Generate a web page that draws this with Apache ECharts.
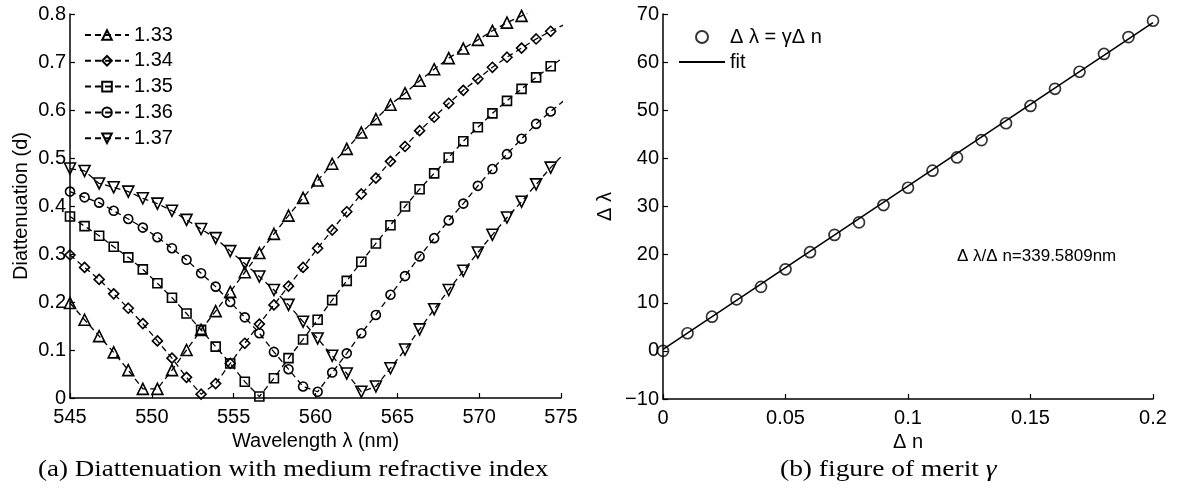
<!DOCTYPE html>
<html lang="en">
<head>
    <meta charset="UTF-8">
    <title>Diattenuation and figure of merit</title>
    <script src="https://cdn.jsdelivr.net/npm/echarts@6.0.0/dist/echarts.min.js"></script>
    <style>
        html, body { margin: 0; padding: 0; background: #fff; }
        #main { width: 1182px; height: 488px; }
    </style>
</head>
<body>
<div id="main"></div>
<script type="text/javascript">

    // left panel: sampled wavelengths (nm)
    var wavelength = [545, 545.89, 546.78, 547.67, 548.56, 549.45, 550.34, 551.23, 552.12, 553.01,
        553.9, 554.79, 555.68, 556.57, 557.46, 558.35, 559.24, 560.13, 561.02, 561.91,
        562.8, 563.69, 564.58, 565.47, 566.36, 567.25, 568.14, 569.03, 569.92, 570.81,
        571.7, 572.59, 573.48, 574.37, 575.26];

    // diattenuation for each medium index
    var d133 = [0.198, 0.163, 0.129, 0.095, 0.058, 0.019, 0.019, 0.058, 0.100, 0.142,
        0.181, 0.221, 0.262, 0.302, 0.342, 0.380, 0.417, 0.453, 0.488, 0.519,
        0.553, 0.581, 0.611, 0.635, 0.661, 0.685, 0.708, 0.728, 0.746, 0.765,
        0.782, 0.796, 0.812, 0.826, 0.840];
    var d134 = [0.298, 0.272, 0.247, 0.217, 0.187, 0.155, 0.119, 0.083, 0.043, 0.008,
        0.030, 0.072, 0.114, 0.154, 0.194, 0.233, 0.272, 0.312, 0.350, 0.388,
        0.425, 0.458, 0.493, 0.524, 0.557, 0.585, 0.614, 0.641, 0.665, 0.689,
        0.710, 0.729, 0.748, 0.764, 0.779];
    var d135 = [0.378, 0.358, 0.338, 0.315, 0.293, 0.268, 0.239, 0.209, 0.176, 0.142,
        0.107, 0.072, 0.034, 0.003, 0.041, 0.083, 0.122, 0.163, 0.204, 0.244,
        0.284, 0.322, 0.360, 0.399, 0.435, 0.468, 0.501, 0.535, 0.564, 0.593,
        0.619, 0.644, 0.668, 0.691, 0.712];
    var d136 = [0.430, 0.418, 0.407, 0.390, 0.373, 0.355, 0.335, 0.312, 0.288, 0.260,
        0.232, 0.200, 0.168, 0.135, 0.096, 0.060, 0.024, 0.013, 0.053, 0.093,
        0.135, 0.173, 0.215, 0.254, 0.295, 0.333, 0.370, 0.405, 0.442, 0.477,
        0.508, 0.540, 0.571, 0.597, 0.622];
    var d137 = [0.478, 0.473, 0.447, 0.439, 0.430, 0.416, 0.405, 0.390, 0.371, 0.352,
        0.333, 0.306, 0.280, 0.253, 0.225, 0.194, 0.159, 0.124, 0.088, 0.051,
        0.013, 0.024, 0.062, 0.101, 0.143, 0.185, 0.225, 0.265, 0.303, 0.340,
        0.376, 0.409, 0.445, 0.480, 0.512];

    var indexNames = ['1.33', '1.34', '1.35', '1.36', '1.37'];
    var indexSymbols = ['triangle', 'diamond', 'rect', 'circle', 'triangle'];
    var indexRotate = [0, 0, 0, 0, 180];
    var indexSizes = [11, 10, 9, 9, 11];

    // right panel: shift of resonance vs index change
    var deltaN = [0, 0.01, 0.02, 0.03, 0.04, 0.05, 0.06, 0.07, 0.08, 0.09, 0.1,
        0.11, 0.12, 0.13, 0.14, 0.15, 0.16, 0.17, 0.18, 0.19, 0.2];
    var deltaLambda = [0, 3.66, 7.1, 10.7, 13.3, 16.95, 20.5, 24.1, 26.7, 30.3, 33.9,
        37.45, 40.2, 43.8, 47.3, 50.9, 54.45, 58.0, 61.7, 65.2, 68.6];
    var fitX = [0, 0.2];
    var fitY = [0.3, 68.2];

    var font = 'Liberation Sans';

    function axisBase() {
        return {
            axisLine: {onZero: false, lineStyle: {color: '#000', width: 1.5}},
            axisTick: {inside: true, length: 5, lineStyle: {color: '#000', width: 1.2}},
            axisLabel: {color: '#000', fontSize: 20, fontFamily: font},
            splitLine: {show: false},
            nameTextStyle: {color: '#000', fontSize: 20, fontFamily: font},
            nameLocation: 'middle'
        };
    }

    window.onload = function () {
        var chartDom = document.getElementById('main');
        var myChart = echarts.init(chartDom);

        var dSets = [d133, d134, d135, d136, d137];
        var series = [];
        for (var s = 0; s < dSets.length; s++) {
            var pts = [];
            for (var i = 0; i < wavelength.length; i++) {
                pts.push([wavelength[i], dSets[s][i]]);
            }
            series.push({
                name: indexNames[s],
                type: 'line',
                xAxisIndex: 0,
                yAxisIndex: 0,
                data: pts,
                symbol: indexSymbols[s],
                symbolRotate: indexRotate[s],
                symbolSize: indexSizes[s],
                clip: true,
                lineStyle: {color: '#000', width: 1.3, type: [6, 4]},
                itemStyle: {color: 'rgba(0,0,0,0)', borderColor: '#000', borderWidth: 1.6}
            });
        }

        var scatterPts = [];
        for (var j = 0; j < deltaN.length; j++) {
            scatterPts.push([deltaN[j], deltaLambda[j]]);
        }
        var fitPts = [];
        for (var k = 0; k < fitX.length; k++) {
            fitPts.push([fitX[k], fitY[k]]);
        }

        series.push({
            name: 'fit',
            type: 'line',
            xAxisIndex: 1,
            yAxisIndex: 1,
            data: fitPts,
            symbol: 'none',
            lineStyle: {color: '#000', width: 1.6},
            itemStyle: {color: 'rgba(0,0,0,0)', borderWidth: 0}
        });
        series.push({
            name: 'Δ λ = γΔ n',
            type: 'scatter',
            xAxisIndex: 1,
            yAxisIndex: 1,
            data: scatterPts,
            symbol: 'circle',
            symbolSize: 11,
            itemStyle: {color: 'rgba(0,0,0,0)', borderColor: '#000', borderWidth: 1.7}
        });

        var x0 = axisBase();
        x0.min = 545; x0.max = 575; x0.interval = 5;
        x0.name = 'Wavelength λ (nm)'; x0.nameGap = 29;
        x0.axisLabel.margin = 9;
        x0.gridIndex = 0; x0.type = 'value';

        var y0 = axisBase();
        y0.min = 0; y0.max = 0.8; y0.interval = 0.1;
        y0.name = 'Diattenuation (d)'; y0.nameGap = 39;
        y0.axisLabel.margin = 4;
        y0.gridIndex = 0; y0.type = 'value';

        var x1 = axisBase();
        x1.min = 0; x1.max = 0.2; x1.interval = 0.05;
        x1.name = 'Δ n'; x1.nameGap = 28;
        x1.axisLabel.margin = 9;
        x1.gridIndex = 1; x1.type = 'value';

        var y1 = axisBase();
        y1.min = -10; y1.max = 70; y1.interval = 10;
        y1.name = 'Δ λ'; y1.nameGap = 48;
        y1.axisLabel.margin = 4;
        y1.axisLabel.formatter = function (v) { return String(v).replace('-', '\u2212'); };
        y1.gridIndex = 1; y1.type = 'value';

        var option = {
            animation: false,
            backgroundColor: '#fff',
            grid: [
                {left: 70, top: 14, width: 491, height: 384},
                {left: 663, top: 14, width: 490, height: 385}
            ],
            xAxis: [x0, x1],
            yAxis: [y0, y1],
            legend: [
                {
                    data: indexNames,
                    orient: 'vertical',
                    left: 84, top: 25, padding: 0,
                    itemWidth: 44, itemHeight: 12, itemGap: 5.8,
                    textStyle: {color: '#000', fontSize: 20, fontFamily: font, lineHeight: 20}
                },
                {
                    data: ['Δ λ = γΔ n', 'fit'],
                    orient: 'vertical',
                    left: 678, top: 27, padding: 0,
                    itemWidth: 46, itemHeight: 12, itemGap: 5,
                    textStyle: {color: '#000', fontSize: 20, fontFamily: font, lineHeight: 20}
                }
            ],
            graphic: [
                {
                    type: 'text', x: 957, y: 248,
                    style: {text: 'Δ λ/Δ n=339.5809nm', fill: '#000', fontSize: 17,
                        fontFamily: font, verticalAlign: 'top'}
                },
                {
                    type: 'text', x: 38, y: 459, scaleX: 1.2,
                    style: {text: '(a) Diattenuation with medium refractive index', fill: '#000',
                        fontSize: 22.5, fontFamily: 'Liberation Serif', verticalAlign: 'top'}
                },
                {
                    type: 'text', x: 780, y: 459, scaleX: 1.22,
                    style: {
                        text: '(b) figure of merit {g|γ}', fill: '#000', fontSize: 22.5,
                        fontFamily: 'Liberation Serif', verticalAlign: 'top',
                        rich: {g: {fontStyle: 'italic', fontSize: 22.5, fontFamily: 'Liberation Serif'}}
                    }
                }
            ],
            series: series
        };

        myChart.setOption(option, true);
    };

</script>
</body>
</html>
